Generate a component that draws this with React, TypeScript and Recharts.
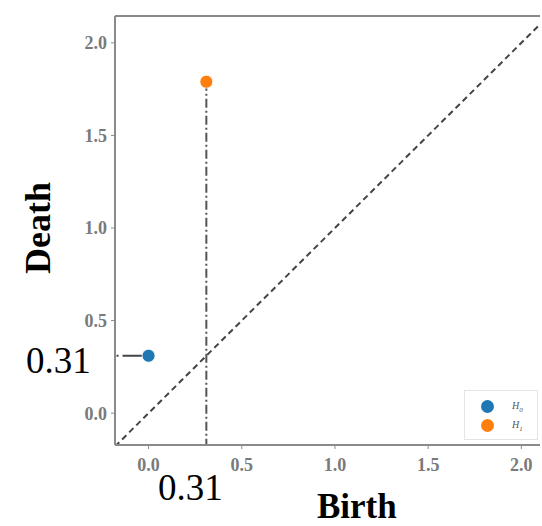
import {
  ScatterChart,
  Scatter,
  XAxis,
  YAxis,
  ReferenceLine,
} from 'recharts'

// persistence diagram values
const h0Births = [0]
const h0Deaths = [0.31]
const h1Births = [0.31]
const h1Deaths = [1.79]
const axisTicks = [0, 0.5, 1, 1.5, 2]
const tickLabels = ['0.0', '0.5', '1.0', '1.5', '2.0']
const xDomain = [-0.18, 2.1]
const yDomain = [-0.172, 2.145]
const markedValue = 0.31

const h0Data = h0Births.map((b, i) => ({ birth: b, death: h0Deaths[i] }))
const h1Data = h1Births.map((b, i) => ({ birth: b, death: h1Deaths[i] }))

const BLUE = '#1f77b4'
const ORANGE = '#ff7f0e'
const SPINE = '#8a8a8a'

const tickStyle = { fill: '#7a7a7a', fontSize: 18, fontFamily: 'Liberation Serif', fontWeight: 700 }

const dot = (color: string) => (props: any) => (
  <circle cx={props.cx} cy={props.cy} r={6.5} fill={color} stroke="#fff" strokeWidth={0.8} />
)

function LegendBox() {
  const rows = [
    { color: BLUE, sub: '0' },
    { color: ORANGE, sub: '1' },
  ]
  return (
    <div
      style={{
        position: 'absolute',
        left: 464,
        top: 390,
        width: 74,
        height: 50,
        border: '1px solid #e4e4e4',
        background: '#fff',
        boxSizing: 'border-box',
        padding: '6px 0 0 16px',
      }}
    >
      {rows.map((r) => (
        <div key={r.sub} style={{ display: 'flex', alignItems: 'center', height: 19 }}>
          <span style={{ width: 13, height: 13, borderRadius: '50%', background: r.color, display: 'inline-block' }} />
          <span style={{ marginLeft: 18, fontSize: 10, fontStyle: 'italic', color: '#555', fontFamily: 'Liberation Serif' }}>
            H<sub style={{ fontSize: 7 }}>{r.sub}</sub>
          </span>
        </div>
      ))}
    </div>
  )
}

export default function App() {
  const bigText = { position: 'absolute' as const, fontFamily: 'Liberation Serif', color: '#000', lineHeight: 1 }
  return (
    <div style={{ position: 'absolute', left: 0, top: 0, width: 542, height: 526, background: '#fff' }}>
      <ScatterChart width={542} height={526} margin={{ top: 16, right: 2, bottom: 51, left: 0 }}>
        <XAxis
          type="number"
          dataKey="birth"
          domain={xDomain}
          ticks={axisTicks}
          tickFormatter={(v) => tickLabels[axisTicks.indexOf(v)] ?? String(v)}
          allowDataOverflow
          height={30}
          tick={tickStyle}
          tickSize={4}
          tickMargin={9}
          axisLine={{ stroke: SPINE, strokeWidth: 2 }}
          tickLine={{ stroke: SPINE }}
        />
        <YAxis
          type="number"
          dataKey="death"
          domain={yDomain}
          ticks={axisTicks}
          tickFormatter={(v) => tickLabels[axisTicks.indexOf(v)] ?? String(v)}
          allowDataOverflow
          width={115}
          tick={tickStyle}
          tickSize={4}
          tickMargin={4}
          axisLine={{ stroke: SPINE, strokeWidth: 2 }}
          tickLine={{ stroke: SPINE }}
        />
        <ReferenceLine
          segment={[{ x: xDomain[0], y: yDomain[1] }, { x: xDomain[1], y: yDomain[1] }]}
          stroke={SPINE}
          strokeWidth={2}
        />
        <ReferenceLine
          segment={[{ x: xDomain[0], y: xDomain[0] }, { x: xDomain[1], y: xDomain[1] }]}
          stroke="#444"
          strokeWidth={2}
          strokeDasharray="6 4"
          ifOverflow="hidden"
        />
        <ReferenceLine
          segment={[{ x: h1Births[0], y: h1Deaths[0] }, { x: h1Births[0], y: yDomain[0] }]}
          stroke="#555"
          strokeWidth={2}
          strokeDasharray="9 3 2 3"
        />
        <ReferenceLine
          segment={[{ x: h0Births[0], y: h0Deaths[0] }, { x: xDomain[0], y: h0Deaths[0] }]}
          stroke="#444"
          strokeWidth={2}
          strokeDasharray="26 4 2 4"
        />
        <Scatter name="H0" data={h0Data} fill={BLUE} shape={dot(BLUE)} isAnimationActive={false} />
        <Scatter name="H1" data={h1Data} fill={ORANGE} shape={dot(ORANGE)} isAnimationActive={false} />
      </ScatterChart>
      <LegendBox />
      <div style={{ ...bigText, left: 26, top: 342, fontSize: 37 }}>{markedValue.toFixed(2)}</div>
      <div style={{ ...bigText, left: 158, top: 469, fontSize: 37 }}>{markedValue.toFixed(2)}</div>
      <div style={{ ...bigText, left: 317, top: 493, fontSize: 35, fontWeight: 700, lineHeight: '28px' }}>Birth</div>
      <div
        style={{
          ...bigText,
          left: 38,
          top: 228,
          fontSize: 36,
          fontWeight: 700,
          transform: 'translate(-50%, -50%) rotate(-90deg)',
        }}
      >
        Death
      </div>
    </div>
  )
}
